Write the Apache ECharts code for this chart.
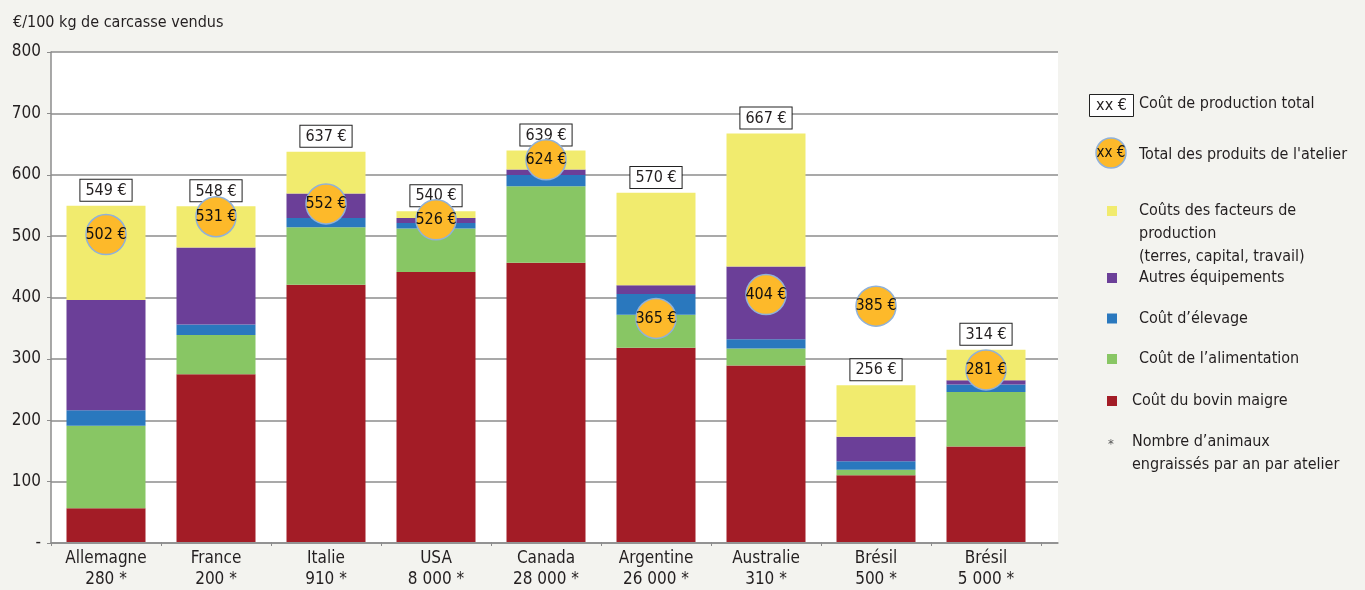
<!DOCTYPE html>
<html><head><meta charset="utf-8">
<script src="https://cdn.jsdelivr.net/npm/echarts@6/dist/echarts.min.js"></script>
<style>html,body{margin:0;padding:0;background:#f3f3ef;}#c{width:1365px;height:590px;}</style>
</head><body><div id="c"></div>
<script>
const categories = ['Allemagne','France','Italie','USA','Canada','Argentine','Australie','Brésil','Brésil'];
const herdSizes = ['280 *','200 *','910 *','8 000 *','28 000 *','26 000 *','310 *','500 *','5 000 *'];
const bovinMaigre = [55, 274, 420, 441, 456, 317, 288, 109, 156];
const alimentation = [135, 64, 94, 71, 125, 54, 28, 9, 89];
const elevage = [25, 17, 15, 9, 18, 34, 15, 14, 12];
const equipements = [180, 126, 40, 8, 9, 14, 119, 40, 7];
const facteurs = [154, 67, 68, 11, 31, 151, 217, 84, 50];
const totalCost = [549, 548, 637, 540, 639, 570, 667, 256, 314];
const totalProducts = [502, 531, 552, 526, 624, 365, 404, 385, 281];
const yTickLabels = ['-','100','200','300','400','500','600','700','800'];

const FONT = "'Liberation Sans Narrow','DejaVu Sans Condensed','Roboto Condensed',sans-serif";
const TXT = '#231f20';
const GRIDC = '#8c8c8c';
const C = {red:'#a31c26', green:'#88c664', blue:'#2a78be', purple:'#6b3f98', yellow:'#f1eb6e', orange:'#fdb92a', ring:'#8fb1da'};

const names = {
  yellow: 'Coûts des facteurs de\nproduction\n(terres, capital, travail)',
  purple: 'Autres équipements',
  blue: 'Coût d’élevage',
  green: 'Coût de l’alimentation',
  red: 'Coût du bovin maigre'
};

function barSeries(name, data, color, extra) {
  return Object.assign({
    name, type: 'bar', stack: 'cost', xAxisIndex: 1, yAxisIndex: 1,
    barWidth: 79, data, itemStyle: {color}, emphasis: {disabled: true}
  }, extra || {});
}

const chart = echarts.init(document.getElementById('c'), null, {renderer: 'canvas'});
chart.setOption({
  backgroundColor: '#f3f3ef',
  animation: false,
  textStyle: {fontFamily: FONT, color: TXT},
  title: {text: '€/100 kg de carcasse vendus', left: 8, top: 10,
    textStyle: {fontFamily: FONT, fontSize: 16, fontWeight: 'normal', color: TXT}},
  grid: [
    {left: 51, right: 307, top: 52, bottom: 47, show: true, backgroundColor: '#ffffff', borderWidth: 0},
    {left: 51, right: 324, top: 52, bottom: 47}
  ],
  xAxis: [
    {gridIndex: 0, type: 'value', min: 0, max: 1, axisLabel: {show: false}, axisTick: {show: false},
      splitLine: {show: false}, axisLine: {show: true, lineStyle: {color: GRIDC, width: 1.5}}},
    {gridIndex: 1, type: 'category', data: categories.map((c, i) => c + '\n' + herdSizes[i]),
      axisLine: {show: false},
      axisTick: {show: true, length: 4, lineStyle: {color: GRIDC}},
      axisLabel: {fontFamily: FONT, fontSize: 17, color: TXT, lineHeight: 21, margin: 6, interval: 0}}
  ],
  yAxis: [
    {gridIndex: 0, type: 'value', min: 0, max: 800, interval: 100,
      axisLine: {show: true, lineStyle: {color: GRIDC, width: 1.5}},
      axisTick: {show: true, length: 4, lineStyle: {color: GRIDC}},
      splitLine: {show: true, lineStyle: {color: GRIDC, width: 1.5}},
      axisLabel: {fontFamily: FONT, fontSize: 17, color: TXT, margin: 10,
        formatter: v => yTickLabels[Math.round(v / 100)]}},
    {gridIndex: 1, type: 'value', min: 0, max: 800, interval: 100, show: false}
  ],
  legend: [
    {data: [names.yellow], left: 1107, top: 153.5, orient: 'vertical', padding: 0,
      icon: 'rect', itemWidth: 10, itemHeight: 10, selectedMode: false,
      formatter: n => '\n\n' + n,
      textStyle: {fontFamily: FONT, fontSize: 16, color: TXT, lineHeight: 23, padding: [0, 0, 0, 17]}},
    {data: [names.purple, names.blue, names.green], left: 1107, top: 266.5, orient: 'vertical', padding: 0,
      itemGap: 17.5, icon: 'rect', itemWidth: 10, itemHeight: 10, selectedMode: false,
      textStyle: {fontFamily: FONT, fontSize: 16, color: TXT, lineHeight: 23, padding: [0, 0, 0, 17]}},
    {data: [names.red], left: 1107, top: 389.5, orient: 'vertical', padding: 0,
      icon: 'rect', itemWidth: 10, itemHeight: 10, selectedMode: false,
      textStyle: {fontFamily: FONT, fontSize: 16, color: TXT, lineHeight: 23, padding: [0, 0, 0, 10]}}
  ],
  series: [
    barSeries(names.red, bovinMaigre, C.red),
    barSeries(names.green, alimentation, C.green),
    barSeries(names.blue, elevage, C.blue),
    barSeries(names.purple, equipements, C.purple),
    barSeries(names.yellow, facteurs, C.yellow, {
      label: {show: true, position: 'top', distance: 5,
        formatter: p => totalCost[p.dataIndex] + ' €',
        fontFamily: FONT, fontSize: 16, color: TXT, backgroundColor: '#ffffff',
        borderColor: '#222', borderWidth: 1, padding: [3, 5, 2, 5]}
    }),
    {name: 'Total des produits de l\'atelier', type: 'scatter', xAxisIndex: 1, yAxisIndex: 1, z: 5,
      data: totalProducts, symbol: 'circle', symbolSize: 40,
      itemStyle: {color: C.orange, borderColor: C.ring, borderWidth: 1.5, opacity: 1},
      emphasis: {disabled: true},
      label: {show: true, position: 'inside', formatter: p => p.value + ' €',
        fontFamily: FONT, fontSize: 16, color: '#111'}}
  ],
  graphic: [
    {type: 'rect', shape: {x: 1089.5, y: 94.5, width: 44, height: 22},
      style: {fill: '#fff', stroke: '#222', lineWidth: 1}},
    {type: 'text', x: 1111.5, y: 105.5, style: {text: 'xx €', fontFamily: FONT, fontSize: 16, fill: TXT, align: 'center', verticalAlign: 'middle'}},
    {type: 'text', x: 1139, y: 104, style: {text: 'Coût de production total', fontFamily: FONT, fontSize: 16, fill: TXT, verticalAlign: 'middle'}},
    {type: 'circle', shape: {cx: 1111, cy: 153, r: 15}, style: {fill: C.orange, stroke: C.ring, lineWidth: 1.5}},
    {type: 'text', x: 1111, y: 153, style: {text: 'xx €', fontFamily: FONT, fontSize: 15, fill: '#111', align: 'center', verticalAlign: 'middle'}},
    {type: 'text', x: 1139, y: 155, style: {text: 'Total des produits de l\'atelier', fontFamily: FONT, fontSize: 16, fill: TXT, verticalAlign: 'middle'}},
    {type: 'text', x: 1111, y: 445, style: {text: '*', fontFamily: FONT, fontSize: 13, fill: '#555', align: 'center', verticalAlign: 'middle'}},
    {type: 'text', x: 1132, y: 430, style: {text: 'Nombre d’animaux\nengraissés par an par atelier', fontFamily: FONT, fontSize: 16, lineHeight: 23, fill: TXT, verticalAlign: 'top'}}
  ]
});
</script></body></html>
